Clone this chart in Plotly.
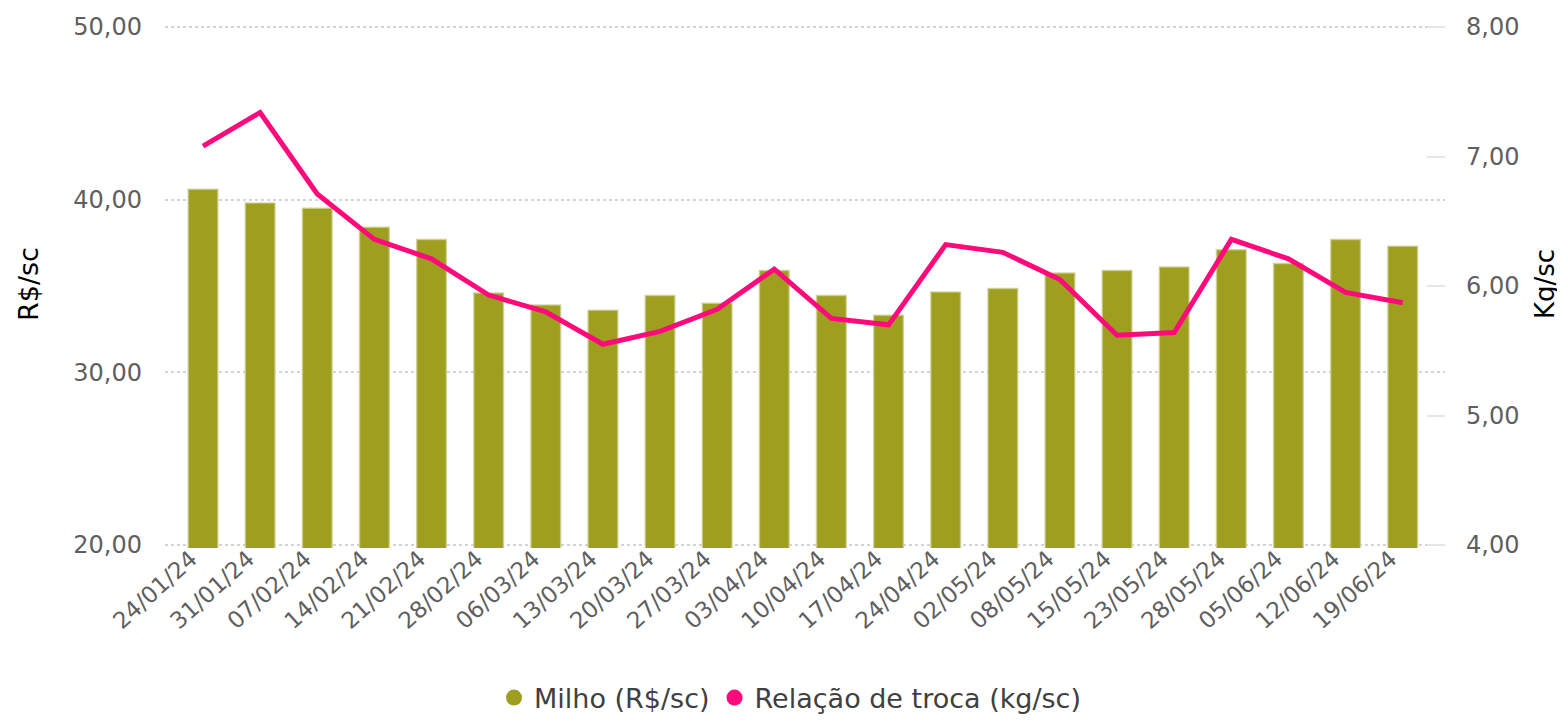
import plotly.graph_objects as go

dates = ["24/01/24", "31/01/24", "07/02/24", "14/02/24", "21/02/24", "28/02/24",
         "06/03/24", "13/03/24", "20/03/24", "27/03/24", "03/04/24", "10/04/24",
         "17/04/24", "24/04/24", "02/05/24", "08/05/24", "15/05/24", "23/05/24",
         "28/05/24", "05/06/24", "12/06/24", "19/06/24"]
milho = [40.6, 39.8, 39.5, 38.4, 37.7, 34.6, 33.9, 33.6, 34.45, 34.0, 35.9, 34.45,
         33.3, 34.65, 34.85, 35.75, 35.9, 36.1, 37.1, 36.3, 37.7, 37.3]
relacao = [7.08, 7.34, 6.71, 6.36, 6.21, 5.93, 5.80, 5.55, 5.65, 5.82, 6.13, 5.75,
           5.70, 6.32, 6.26, 6.05, 5.62, 5.64, 6.36, 6.21, 5.95, 5.87]
left_ticks = [20, 30, 40, 50]
right_ticks = [4, 5, 6, 7, 8]

BAR = "#9E9E1F"
PINK = "#FF0A7A"
GRAY = "#5F5F5F"
FONT = "DejaVu Sans"

# page is offset by the 8px body margin
OFF = 8
PL, PR, PT, PB = 165, 1445, 27, 545      # plot box in page pixels (ticks 50/8 at PT, 20/4 at PB)
PAD = 3                                  # extra pixels so the edge gridlines stay visible
W, H = 1565 - OFF, 723 - 2 * OFF
lpx = (PB - PT) / 30.0
rpx = (PB - PT) / 4.0
PH = PB - PT + 2 * PAD


def py(page_y):
    return (PB + PAD - page_y) / PH


x_idx = list(range(len(dates)))

fig = go.Figure()
fig.add_trace(go.Bar(x=x_idx, y=milho, name="Milho (R$/sc)", width=0.52,
                     marker=dict(color=BAR, line=dict(color="rgba(205,205,150,0.8)", width=1.5)),
                     showlegend=False))
fig.add_trace(go.Scatter(x=x_idx, y=relacao, name="Relação de troca (kg/sc)", yaxis="y2",
                         mode="lines", line=dict(color=PINK, width=5), showlegend=False))
# legend entries (circles)
fig.add_trace(go.Scatter(x=[None], y=[None], mode="markers", name="Milho (R$/sc)",
                         marker=dict(color=BAR, size=20, symbol="circle")))
fig.add_trace(go.Scatter(x=[None], y=[None], mode="markers", name="Relação de troca (kg/sc)",
                         marker=dict(color=PINK, size=20, symbol="circle")))

fig.update_layout(
    width=W, height=H,
    margin=dict(l=PL - OFF, r=W - (PR - OFF), t=PT - OFF - PAD, b=H - (PB - OFF) - PAD,
                autoexpand=False),
    paper_bgcolor="white", plot_bgcolor="white",
    separators=",.",
    font=dict(family=FONT, color=GRAY, size=22),
    xaxis=dict(
        tickmode="array", tickvals=x_idx, ticktext=dates,
        range=[-0.665, 21.74], tickangle=-42, showgrid=False, zeroline=False,
        showline=False, ticks="", tickfont=dict(size=23, color=GRAY),
        ticklabelshift=-12, ticklabelstandoff=-8, automargin=False,
    ),
    yaxis=dict(
        range=[20 - PAD / lpx, 50 + PAD / lpx], tickvals=left_ticks, tickformat=".2f",
        showgrid=True, gridcolor="#D4D4D4", griddash="dot", gridwidth=2,
        zeroline=False, showline=False, ticks="", ticklabelstandoff=22,
        tickfont=dict(size=24, color=GRAY), automargin=False,
    ),
    yaxis2=dict(
        range=[4 - PAD / rpx, 8 + PAD / rpx], tickvals=right_ticks, tickformat=".2f",
        overlaying="y", side="right", showgrid=False, zeroline=False, showline=False,
        ticks="inside", ticklen=18, tickwidth=2, tickcolor="#E6E6E6",
        ticklabelstandoff=20, tickfont=dict(size=24, color=GRAY), automargin=False,
    ),
    legend=dict(orientation="h", x=(790 - PL) / (PR - PL), xanchor="center",
                y=py(698), yanchor="middle",
                font=dict(size=27, color="#404040"), itemsizing="trace",
                tracegroupgap=0, itemwidth=30),
    annotations=[
        dict(text="R$/sc", textangle=-90, xref="paper", yref="paper",
             x=(28 - PL) / (PR - PL), y=py(284), xanchor="center", yanchor="middle",
             showarrow=False, font=dict(size=27, color="black", family=FONT)),
        dict(text="Kg/sc", textangle=-90, xref="paper", yref="paper",
             x=(1545 - PL) / (PR - PL), y=py(284), xanchor="center", yanchor="middle",
             showarrow=False, font=dict(size=26, color="black", family=FONT)),
    ],
)

fig.write_html("out.html")
